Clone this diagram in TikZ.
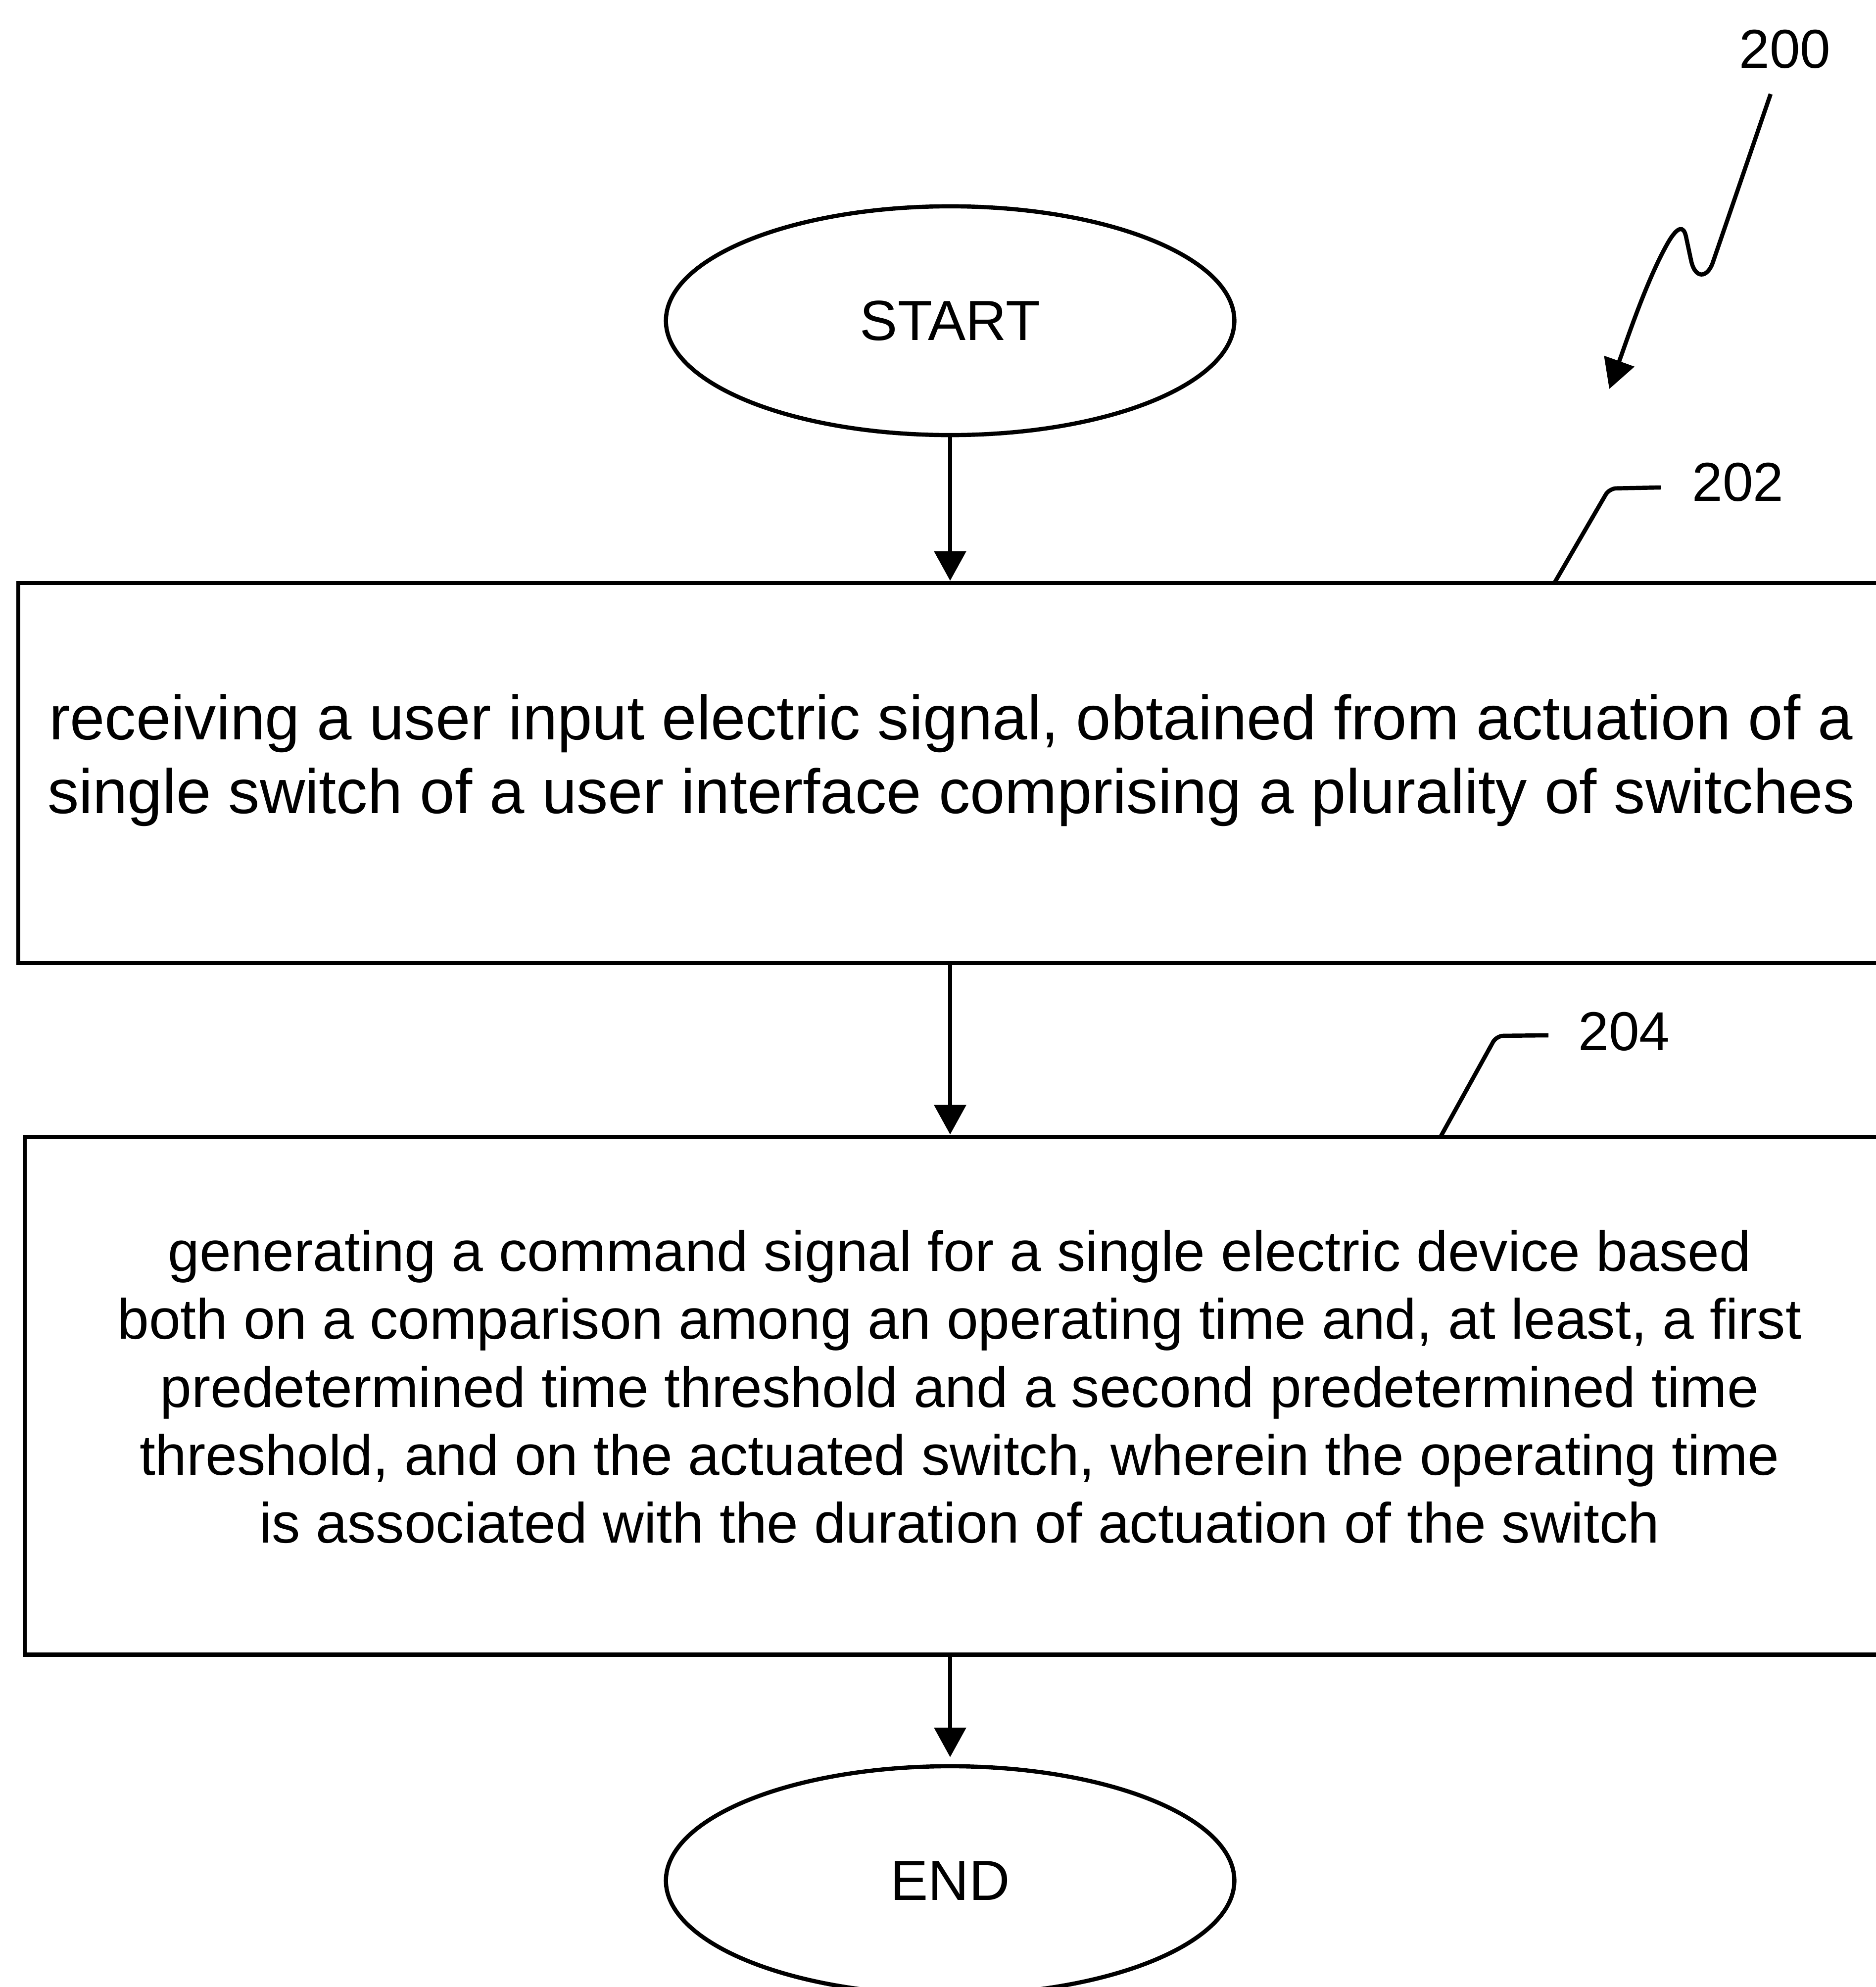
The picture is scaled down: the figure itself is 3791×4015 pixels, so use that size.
\documentclass[tikz,border=0pt]{standalone}
\usepackage{fontspec}
\setmainfont{Liberation Sans}
\usetikzlibrary{arrows.meta,shapes.geometric}
\begin{document}
\begin{tikzpicture}[x=0.01cm,y=-0.01cm,
  ln/.style={line width=2.4pt},
  arr/.style={ln,-{Triangle[length=17pt,width=18pt]}},
  term/.style={ellipse,draw,ln,minimum width=11.48cm,minimum height=4.62cm,inner sep=0pt,font=\fontsize{32.5}{39}\selectfont},
  stepbox/.style={rectangle,draw,ln,inner sep=0pt},
  boxtext/.style={inner sep=0pt,align=center},
  lbl/.style={inner sep=0pt,font=\fontsize{31.5}{38}\selectfont},
  lead/.style={ln,rounded corners=4pt},
]
\useasboundingbox (0,0) rectangle (3791,4015);
\clip (0,0) rectangle (3791,4015);

% terminals
\node[term] (start) at (1920,648) {START};
\node[term] (end) at (1920,3800) {END};

% process boxes
\node[stepbox,minimum width=37.64cm,minimum height=7.68cm] (b202) at (1920,1562) {};
\node[boxtext,font=\fontsize{36}{42.4}\selectfont] (t202) at (1922,1536)
  {receiving a user input electric signal, obtained from actuation of a\\
   single switch of a user interface comprising a plurality of switches};

\node[stepbox,minimum width=37.48cm,minimum height=10.46cm] (b204) at (1925,2820) {};
\node[boxtext,font=\fontsize{32.6}{39}\selectfont] (t204) at (1939,2802)
  {generating a command signal for a single electric device based\\
   both on a comparison among an operating time and, at least, a first\\
   predetermined time threshold and a second predetermined time\\
   threshold, and on the actuated switch, wherein the operating time\\
   is associated with the duration of actuation of the switch};

% flow arrows
\draw[arr] (start.south) -- (start.south |- b202.north);
\draw[arr] (b202.south -| start) -- (b204.north -| start);
\draw[arr,shorten >=4pt] (b204.south -| start) -- (end.north);

% reference labels
\node[lbl,anchor=base west] (n200) at (3514,138) {200};
\node[lbl,anchor=base west] (n202) at (3419,1012) {202};
\node[lbl,anchor=base west] (n204) at (3189,2122) {204};

% leader for 200 (squiggle arrow)
\coordinate (s200a) at (3578,190);
\coordinate (s200b) at (3252,786);
\draw[arr] (s200a) -- (3461,531) .. controls (3450,562) and (3425,565) .. (3417,525)
  -- (3407,478) .. controls (3402,455) and (3390,458) .. (3372,488)
  .. controls (3330,560) and (3290,680) .. (s200b);

% leaders for 202 and 204
\coordinate (l202a) at (3141,1178);
\coordinate (l202b) at (3252,987);
\coordinate (l202c) at (3356,985);
\draw[lead] (l202a) -- (l202b) -- (l202c);

\coordinate (l204a) at (2911,2297);
\coordinate (l204b) at (3024,2093);
\coordinate (l204c) at (3129,2092);
\draw[lead] (l204a) -- (l204b) -- (l204c);
\end{tikzpicture}
\end{document}
